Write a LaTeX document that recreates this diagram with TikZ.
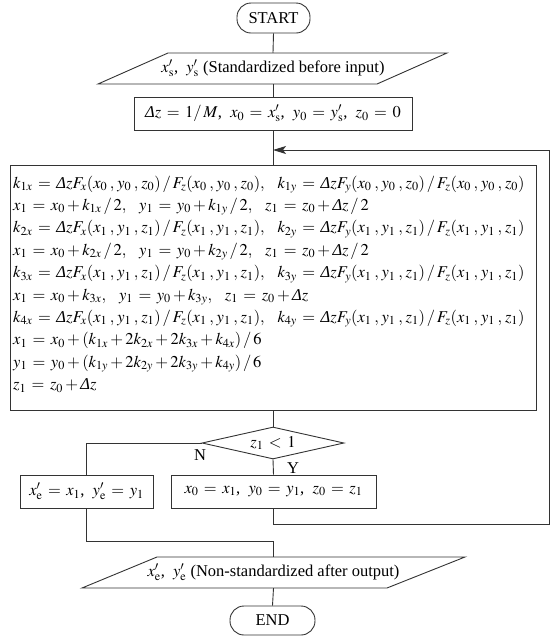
\documentclass[tikz,border=0pt]{standalone}
\usepackage{mathptmx}
\usepackage[no-math]{fontspec}
\setmainfont{Liberation Serif}
\usetikzlibrary{arrows.meta,shapes.geometric}
\newcommand{\Dl}{\mbox{\itshape Δ}}
\newcommand{\sepc}{,\ \ }
\newcommand{\tri}[3]{(#1\mkern3mu,\mkern1mu#2\mkern3mu,\mkern1mu#3)}
\newcommand{\myfont}{\fontsize{16.5}{22.4}\selectfont}
\thickmuskip=6mu plus 3mu\relax
\begin{document}
\begin{tikzpicture}[x=1pt,y=-1pt,
  every node/.style={font=\myfont, inner sep=0pt},
  ln/.style={line width=0.9pt, draw=black!80},
  boxnode/.style={ln, rectangle, draw},
  termnode/.style={ln, rectangle, draw, rounded corners=14pt},
  iotext/.style={minimum height=31pt},
  lbl/.style={font=\myfont}
]
\useasboundingbox (0,0) rectangle (552,641);

% start
\node[termnode, minimum width=73pt, minimum height=30pt] (start) at (273.5,18) {START};

% input parallelogram
\node[iotext, minimum width=280pt] (in) at (273,68.5) {$x'_{\mathrm{s}}$\sepc$y'_{\mathrm{s}}$ (Standardized before input)};
\draw[ln] (98,84) -- (377,84) -- (447,53) -- (168,53) -- cycle;

% init box
\node[boxnode, minimum width=278pt, minimum height=33pt] (init) at (273,113.5)
  {$\Dl z = 1/\,M$\sepc$x_0 = x'_{\mathrm{s}}$\sepc$y_0 = y'_{\mathrm{s}}$\sepc$z_0 = 0$};

% big box
\node[boxnode, minimum width=526pt, minimum height=245pt] (big) at (273,287.5) {};
\node[anchor=west, text width=520pt, align=left] (bigtxt) at (13,284) {%
\mbox{$k_{1x} = \Dl zF_x\tri{x_0}{y_0}{z_0}\,/\,F_z\tri{x_0}{y_0}{z_0},\ \ k_{1y} = \Dl zF_y\tri{x_0}{y_0}{z_0}\,/\,F_z\tri{x_0}{y_0}{z_0}$}\\
\mbox{$x_1 = x_0 + k_{1x}\,/\,2,\ \ y_1 = y_0 + k_{1y}\,/\,2,\ \ z_1 = z_0 + \Dl z\,/\,2$}\\
\mbox{$k_{2x} = \Dl zF_x\tri{x_1}{y_1}{z_1}\,/\,F_z\tri{x_1}{y_1}{z_1},\ \ k_{2y} = \Dl zF_y\tri{x_1}{y_1}{z_1}\,/\,F_z\tri{x_1}{y_1}{z_1}$}\\
\mbox{$x_1 = x_0 + k_{2x}\,/\,2,\ \ y_1 = y_0 + k_{2y}\,/\,2,\ \ z_1 = z_0 + \Dl z\,/\,2$}\\
\mbox{$k_{3x} = \Dl zF_x\tri{x_1}{y_1}{z_1}\,/\,F_z\tri{x_1}{y_1}{z_1},\ \ k_{3y} = \Dl zF_y\tri{x_1}{y_1}{z_1}\,/\,F_z\tri{x_1}{y_1}{z_1}$}\\
\mbox{$x_1 = x_0 + k_{3x},\ \ y_1 = y_0 + k_{3y},\ \ z_1 = z_0 + \Dl z$}\\
\mbox{$k_{4x} = \Dl zF_x\tri{x_1}{y_1}{z_1}\,/\,F_z\tri{x_1}{y_1}{z_1},\ \ k_{4y} = \Dl zF_y\tri{x_1}{y_1}{z_1}\,/\,F_z\tri{x_1}{y_1}{z_1}$}\\
\mbox{$x_1 = x_0 + (k_{1x} + 2k_{2x} + 2k_{3x} + k_{4x})\,/\,6$}\\
\mbox{$y_1 = y_0 + (k_{1y} + 2k_{2y} + 2k_{3y} + k_{4y})\,/\,6$}\\
\mbox{$z_1 = z_0 + \Dl z$}};

% decision
\node[ln, diamond, draw, aspect=4.4, minimum width=142pt, minimum height=32pt] (dec) at (273,443) {$z_1 < 1$};

% left / right boxes
\node[boxnode, minimum width=133pt, minimum height=33pt] (lbox) at (86.5,491.5)
  {$x'_{\mathrm{e}} = x_1$\sepc$y'_{\mathrm{e}} = y_1$};
\node[boxnode, minimum width=205pt, minimum height=33pt] (rbox) at (273.5,491.5)
  {$x_0 = x_1$\sepc$y_0 = y_1$\sepc$z_0 = z_1$};

% output parallelogram
\node[iotext, minimum width=300pt] (out) at (273.5,572.5) {$x'_{\mathrm{e}}$\sepc$y'_{\mathrm{e}}$ (Non-standardized after output)};
\draw[ln] (82,588) -- (387,588) -- (465,557) -- (157,557) -- cycle;

% end
\node[termnode, minimum width=85pt, minimum height=29pt] (end) at (272.5,620.5) {END};

% labels
\node[lbl] (nlab) at (200,455) {N};
\node[lbl] (ylab) at (293,468) {Y};

% connectors
\coordinate (join) at (273,150);
\coordinate (lp1) at (273.5,524);
\coordinate (lp2) at (549,524);
\coordinate (lp3) at (549,150);
\coordinate (nl) at (86.5,443);
\coordinate (m1) at (86.5,541);
\coordinate (m2) at (273.5,541);

\draw[ln] (start.south) -- (in.north);
\draw[ln] (in.south) -- (init.north);
\draw[ln] (init.south) -- (big.north);
\draw[ln] (big.south) -- (dec.north);
\draw[ln] (dec.west) -- (nl) -- (lbox.north);
\draw[ln] (dec.south) -- (rbox.north);
\draw[ln, -{Stealth[length=13pt,width=8pt,inset=3pt]}] (rbox.south) -- (lp1) -- (lp2) -- (lp3) -- (join);
\draw[ln] (lbox.south) -- (m1) -- (m2) -- (out.north);
\draw[ln] (out.south) -- (end.north);
\end{tikzpicture}
\end{document}
